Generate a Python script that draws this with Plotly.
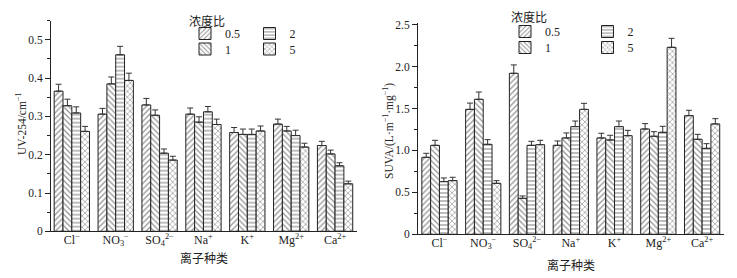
import plotly.graph_objects as go

ions = ["Cl<sup>−</sup>", "NO<sub>3</sub><sup>−</sup>", "SO<sub>4</sub><sup>2−</sup>", "Na<sup>+</sup>",
        "K<sup>+</sup>", "Mg<sup>2+</sup>", "Ca<sup>2+</sup>"]
ratios = ["0.5", "1", "2", "5"]

uv_05 = [0.366, 0.306, 0.330, 0.306, 0.258, 0.280, 0.224]
uv_1 = [0.328, 0.385, 0.303, 0.285, 0.253, 0.262, 0.202]
uv_2 = [0.309, 0.461, 0.204, 0.312, 0.253, 0.250, 0.171]
uv_5 = [0.261, 0.394, 0.186, 0.279, 0.262, 0.220, 0.124]
uv_err_05 = [0.018, 0.015, 0.017, 0.016, 0.013, 0.013, 0.011]
uv_err_1 = [0.017, 0.018, 0.014, 0.014, 0.014, 0.012, 0.010]
uv_err_2 = [0.016, 0.022, 0.011, 0.014, 0.014, 0.014, 0.008]
uv_err_5 = [0.013, 0.019, 0.010, 0.014, 0.013, 0.010, 0.007]

suva_05 = [0.918, 1.490, 1.920, 1.061, 1.149, 1.256, 1.415]
suva_1 = [1.061, 1.610, 0.429, 1.149, 1.125, 1.169, 1.133]
suva_2 = [0.628, 1.073, 1.061, 1.284, 1.284, 1.216, 1.025]
suva_5 = [0.640, 0.608, 1.069, 1.490, 1.176, 2.230, 1.316]
suva_err_05 = [0.048, 0.075, 0.100, 0.052, 0.056, 0.064, 0.064]
suva_err_1 = [0.060, 0.087, 0.028, 0.060, 0.056, 0.055, 0.059]
suva_err_2 = [0.044, 0.056, 0.048, 0.067, 0.067, 0.072, 0.056]
suva_err_5 = [0.040, 0.032, 0.052, 0.072, 0.064, 0.107, 0.063]

suva_tickvals = [0, 0.5, 1.0, 1.5, 2.0, 2.5]
suva_ticktext = ["0", "0.5", "1.0", "1.5", "2.0", "2.5"]

uv_series = [uv_05, uv_1, uv_2, uv_5]
uv_errs = [uv_err_05, uv_err_1, uv_err_2, uv_err_5]
suva_series = [suva_05, suva_1, suva_2, suva_5]
suva_errs = [suva_err_05, suva_err_1, suva_err_2, suva_err_5]

shapes = ["/", "\\", "-", "x"]
W, H = 737, 278
SERIF = "Liberation Serif, Noto Sans CJK SC, serif"
CJK = "Noto Sans CJK SC, sans-serif"
INK = "#222222"

fig = go.Figure()

def add_bars(series, errs, xa, ya, legend_ids):
    for i, (vals, er) in enumerate(zip(series, errs)):
        fig.add_trace(go.Bar(
            x=ions, y=vals, name=ratios[i], xaxis=xa, yaxis=ya,
            legend=legend_ids[i], showlegend=True,
            marker=dict(color="white", line=dict(color=INK, width=1),
                        pattern=dict(shape=shapes[i], fgcolor=INK, bgcolor="white",
                                     size=4, solidity=0.3)),
            error_y=dict(type="data", array=er, arrayminus=[0] * len(er), symmetric=False,
                         color="#333333", thickness=1, width=3),
        ))

add_bars(uv_series, uv_errs, "x", "y", ["legend2", "legend3", "legend4", "legend5"])
add_bars(suva_series, suva_errs, "x2", "y2", ["legend6", "legend7", "legend8", "legend9"])

def fx(px):
    return px / W

def fy(py):
    return 1 - py / H

# legend positions (left edge of item box, row centre)
leg_pos = {
    "legend2": (185, 33.5), "legend3": (185, 49), "legend4": (249.5, 33.5), "legend5": (249.5, 49),
    "legend6": (505, 31.5), "legend7": (505, 47.5), "legend8": (587.5, 31.5), "legend9": (587.5, 47.5),
}
legend_layout = {}
for k, (px, py) in leg_pos.items():
    legend_layout[k] = dict(x=fx(px), y=fy(py), xanchor="left", yanchor="middle",
                            bgcolor="rgba(0,0,0,0)", borderwidth=0,
                            font=dict(family=SERIF, size=12, color=INK))

axis_common = dict(showline=True, linecolor=INK, linewidth=1, showgrid=False, zeroline=False,
                   automargin=False)

fig.update_layout(
    width=W, height=H, margin=dict(l=0, r=0, t=0, b=0, autoexpand=False),
    paper_bgcolor="white", plot_bgcolor="white", showlegend=True,
    barmode="group", bargap=0.195, bargroupgap=0,
    font=dict(family=SERIF, size=12, color=INK),
    xaxis=dict(domain=[fx(51), fx(357)], anchor="y", type="category", range=[-0.475, 6.5],
               ticks="", ticklen=0, ticklabelstandoff=-3,
               tickfont=dict(family=SERIF, size=12, color=INK),
               title=dict(text="离子种类", font=dict(family=CJK, size=12, color=INK), standoff=7),
               **axis_common),
    yaxis=dict(domain=[fy(231.3), fy(20.7)], anchor="x", range=[0, 0.55], dtick=0.1, tick0=0,
               ticks="outside", ticklen=5, tickcolor=INK,
               tickfont=dict(family=SERIF, size=11.5, color=INK),
               minor=dict(dtick=0.05, tick0=0, ticks="outside", ticklen=3, tickcolor=INK),
               **axis_common),
    xaxis2=dict(domain=[fx(418), fx(724)], anchor="y2", type="category", range=[-0.49, 6.5],
                ticks="", ticklen=0, ticklabelstandoff=-3,
                tickfont=dict(family=SERIF, size=12, color=INK),
                title=dict(text="离子种类", font=dict(family=CJK, size=12, color=INK), standoff=11),
                **axis_common),
    yaxis2=dict(domain=[fy(234.3), fy(23)], anchor="x2", range=[0, 2.52],
                tickmode="array", tickvals=suva_tickvals, ticktext=suva_ticktext,
                ticks="outside", ticklen=5, tickcolor=INK,
                tickfont=dict(family=SERIF, size=11.5, color=INK),
                minor=dict(tickmode="linear", dtick=0.25, tick0=0, ticks="outside", ticklen=3, tickcolor=INK),
                **axis_common),
    annotations=[
        dict(text="浓度比", x=fx(206.5), y=fy(20), xref="paper", yref="paper", showarrow=False,
             xanchor="center", yanchor="middle", font=dict(family=CJK, size=12, color=INK)),
        dict(text="浓度比", x=fx(528.5), y=fy(17), xref="paper", yref="paper", showarrow=False,
             xanchor="center", yanchor="middle", font=dict(family=CJK, size=12, color=INK)),
        dict(text="UV-254/cm<sup>−1</sup>", x=fx(21), y=fy(124), xref="paper", yref="paper",
             showarrow=False, textangle=-90, xanchor="center", yanchor="middle",
             font=dict(family=SERIF, size=11.5, color=INK)),
        dict(text="SUVA/(L·m<sup>−1</sup>·mg<sup>−1</sup>)", x=fx(388), y=fy(131), xref="paper", yref="paper",
             showarrow=False, textangle=-90, xanchor="center", yanchor="middle",
             font=dict(family=SERIF, size=11.5, color=INK)),
    ],
    **legend_layout,
)

fig.write_html("out.html", config={"displayModeBar": False},
               post_script="document.body.style.margin='0';document.body.style.padding='0';")
